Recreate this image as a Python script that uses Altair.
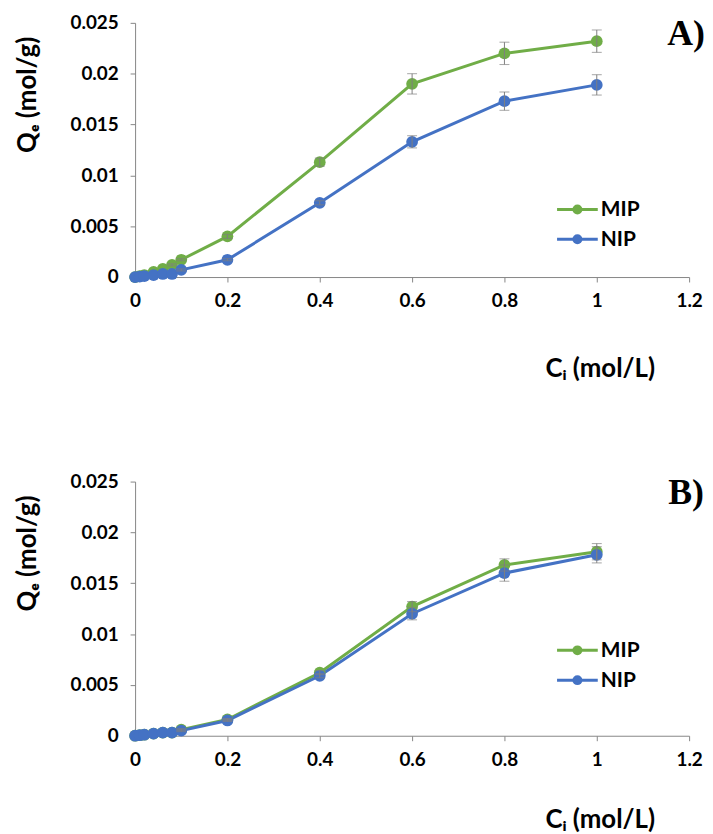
import altair as alt
import pandas as pd

# ---- data ----
ci = [0, 0.01, 0.02, 0.04, 0.06, 0.08, 0.1, 0.2, 0.4, 0.6, 0.8, 1.0]

a_mip = [0, 0.0001, 0.0002, 0.0005, 0.0008, 0.0012, 0.0017, 0.0040, 0.0113, 0.0190, 0.0220, 0.0232]
a_mip_err = [0, 0, 0, 0, 0, 0.0001, 0.0001, 0.0002, 0.0004, 0.0010, 0.0011, 0.0011]
a_nip = [0, 0.00005, 0.0001, 0.0002, 0.0003, 0.0003, 0.0007, 0.0017, 0.0073, 0.0133, 0.0173, 0.0189]
a_nip_err = [0, 0, 0, 0, 0, 0, 0.0001, 0.0001, 0.0002, 0.0006, 0.0009, 0.0010]

b_mip = [0, 0.00005, 0.0001, 0.0002, 0.0003, 0.0003, 0.0006, 0.0016, 0.0062, 0.0127, 0.0168, 0.0181]
b_mip_err = [0, 0, 0, 0, 0, 0, 0.0001, 0.0001, 0.0002, 0.0005, 0.0006, 0.0008]
b_nip = [0, 0.00005, 0.0001, 0.0002, 0.0003, 0.0003, 0.0005, 0.0015, 0.0059, 0.0120, 0.0160, 0.0178]
b_nip_err = [0, 0, 0, 0, 0, 0, 0.0001, 0.0001, 0.0002, 0.0006, 0.0008, 0.0008]

series = ["MIP", "NIP"]
colors = ["#70AD47", "#4472C4"]
x_ticks = [0, 0.2, 0.4, 0.6, 0.8, 1.0, 1.2]
y_ticks = [0, 0.005, 0.01, 0.015, 0.02, 0.025]

W, H = 558, 256
FONT = "Lato"


def frame(mip, mip_err, nip, nip_err):
    rows = []
    for s, vals, errs in (("MIP", mip, mip_err), ("NIP", nip, nip_err)):
        for x, v, e in zip(ci, vals, errs):
            rows.append({"ci": x, "qe": v, "err": e, "lo": v - e, "hi": v + e, "series": s})
    return pd.DataFrame(rows)


def legend_layers(top):
    layers = []
    for i, (s, c) in enumerate(zip(series, colors)):
        yy = top + i * 30
        d = pd.DataFrame({"t": [s]})
        layers.append(
            alt.Chart(d).mark_rule(color=c, strokeWidth=3).encode(
                x=alt.value(425), x2=alt.value(466), y=alt.value(yy)
            )
        )
        layers.append(
            alt.Chart(d).mark_point(filled=True, color=c, size=100, opacity=1).encode(
                x=alt.value(445.5), y=alt.value(yy)
            )
        )
        layers.append(
            alt.Chart(d).mark_text(
                font=FONT, fontSize=21, fontWeight="bold", color="black",
                align="left", baseline="middle",
            ).encode(text="t:N", x=alt.value(469), y=alt.value(yy + 1))
        )
    return layers


def panel(df, label, title_x_y, title_y_y, leg_top, label_y):
    color_scale = alt.Scale(domain=series, range=colors)
    xenc = alt.X(
        "ci:Q",
        scale=alt.Scale(domain=[0, 1.2], nice=False),
        axis=alt.Axis(
            values=x_ticks, format="~f", title="Cᵢ (mol/L)", labelFlush=False,
            titleX=468, titleY=title_x_y, titleBaseline="middle", titleAlign="center",
            labelPadding=10,
        ),
    )
    yenc = alt.Y(
        "qe:Q",
        scale=alt.Scale(domain=[0, 0.025], nice=False),
        axis=alt.Axis(
            values=y_ticks, format="~f", title="Qₑ (mol/g)", labelFlush=False,
            titleX=-108, titleY=title_y_y, titleBaseline="middle", titleAlign="center",
            labelPadding=12,
        ),
    )
    base = alt.Chart(df)
    line = base.mark_line(strokeWidth=3).encode(
        x=xenc, y=yenc,
        color=alt.Color("series:N", scale=color_scale, legend=None),
        detail="series:N",
    )
    pts = base.mark_point(filled=True, size=140, opacity=1).encode(
        x="ci:Q", y="qe:Q",
        color=alt.Color("series:N", scale=color_scale, legend=None),
    )
    edf = df[df["err"] > 0]
    ebase = alt.Chart(edf)
    rule = ebase.mark_rule(color="#7f7f7f", strokeWidth=1).encode(
        x="ci:Q", y="lo:Q", y2="hi:Q"
    )
    cap_lo = ebase.mark_tick(color="#7f7f7f", orient="horizontal", size=10, thickness=1).encode(
        x="ci:Q", y="lo:Q"
    )
    cap_hi = ebase.mark_tick(color="#7f7f7f", orient="horizontal", size=10, thickness=1).encode(
        x="ci:Q", y="hi:Q"
    )
    lab = alt.Chart(pd.DataFrame({"t": [label]})).mark_text(
        font="Liberation Serif", fontSize=36, fontWeight="bold", color="black",
        align="center", baseline="middle",
    ).encode(text="t:N", x=alt.value(555), y=alt.value(label_y))
    return alt.layer(
        line, pts, rule, cap_lo, cap_hi, lab, *legend_layers(leg_top)
    ).properties(width=W, height=H)


pa = panel(frame(a_mip, a_mip_err, a_nip, a_nip_err), "A)", 92, 72, 188, 11)
pb = panel(frame(b_mip, b_mip_err, b_nip, b_nip_err), "B)", 84, 72, 170, 12)

chart = (
    alt.vconcat(pa, pb, spacing=92)
    .resolve_scale(color="independent")
    .configure_axis(
        domainColor="#868686", tickColor="#868686", tickSize=5, grid=False,
        labelFont=FONT, labelFontSize=19, labelFontWeight="bold", labelColor="black",
        titleFont=FONT, titleFontSize=26, titleFontWeight="bold", titleColor="black",
    )
    .configure_view(stroke=None)
    .properties(padding={"left": 7, "top": 3, "right": 0, "bottom": 0})
)

chart.save("out.html", embed_options={"renderer": "svg", "actions": False})
